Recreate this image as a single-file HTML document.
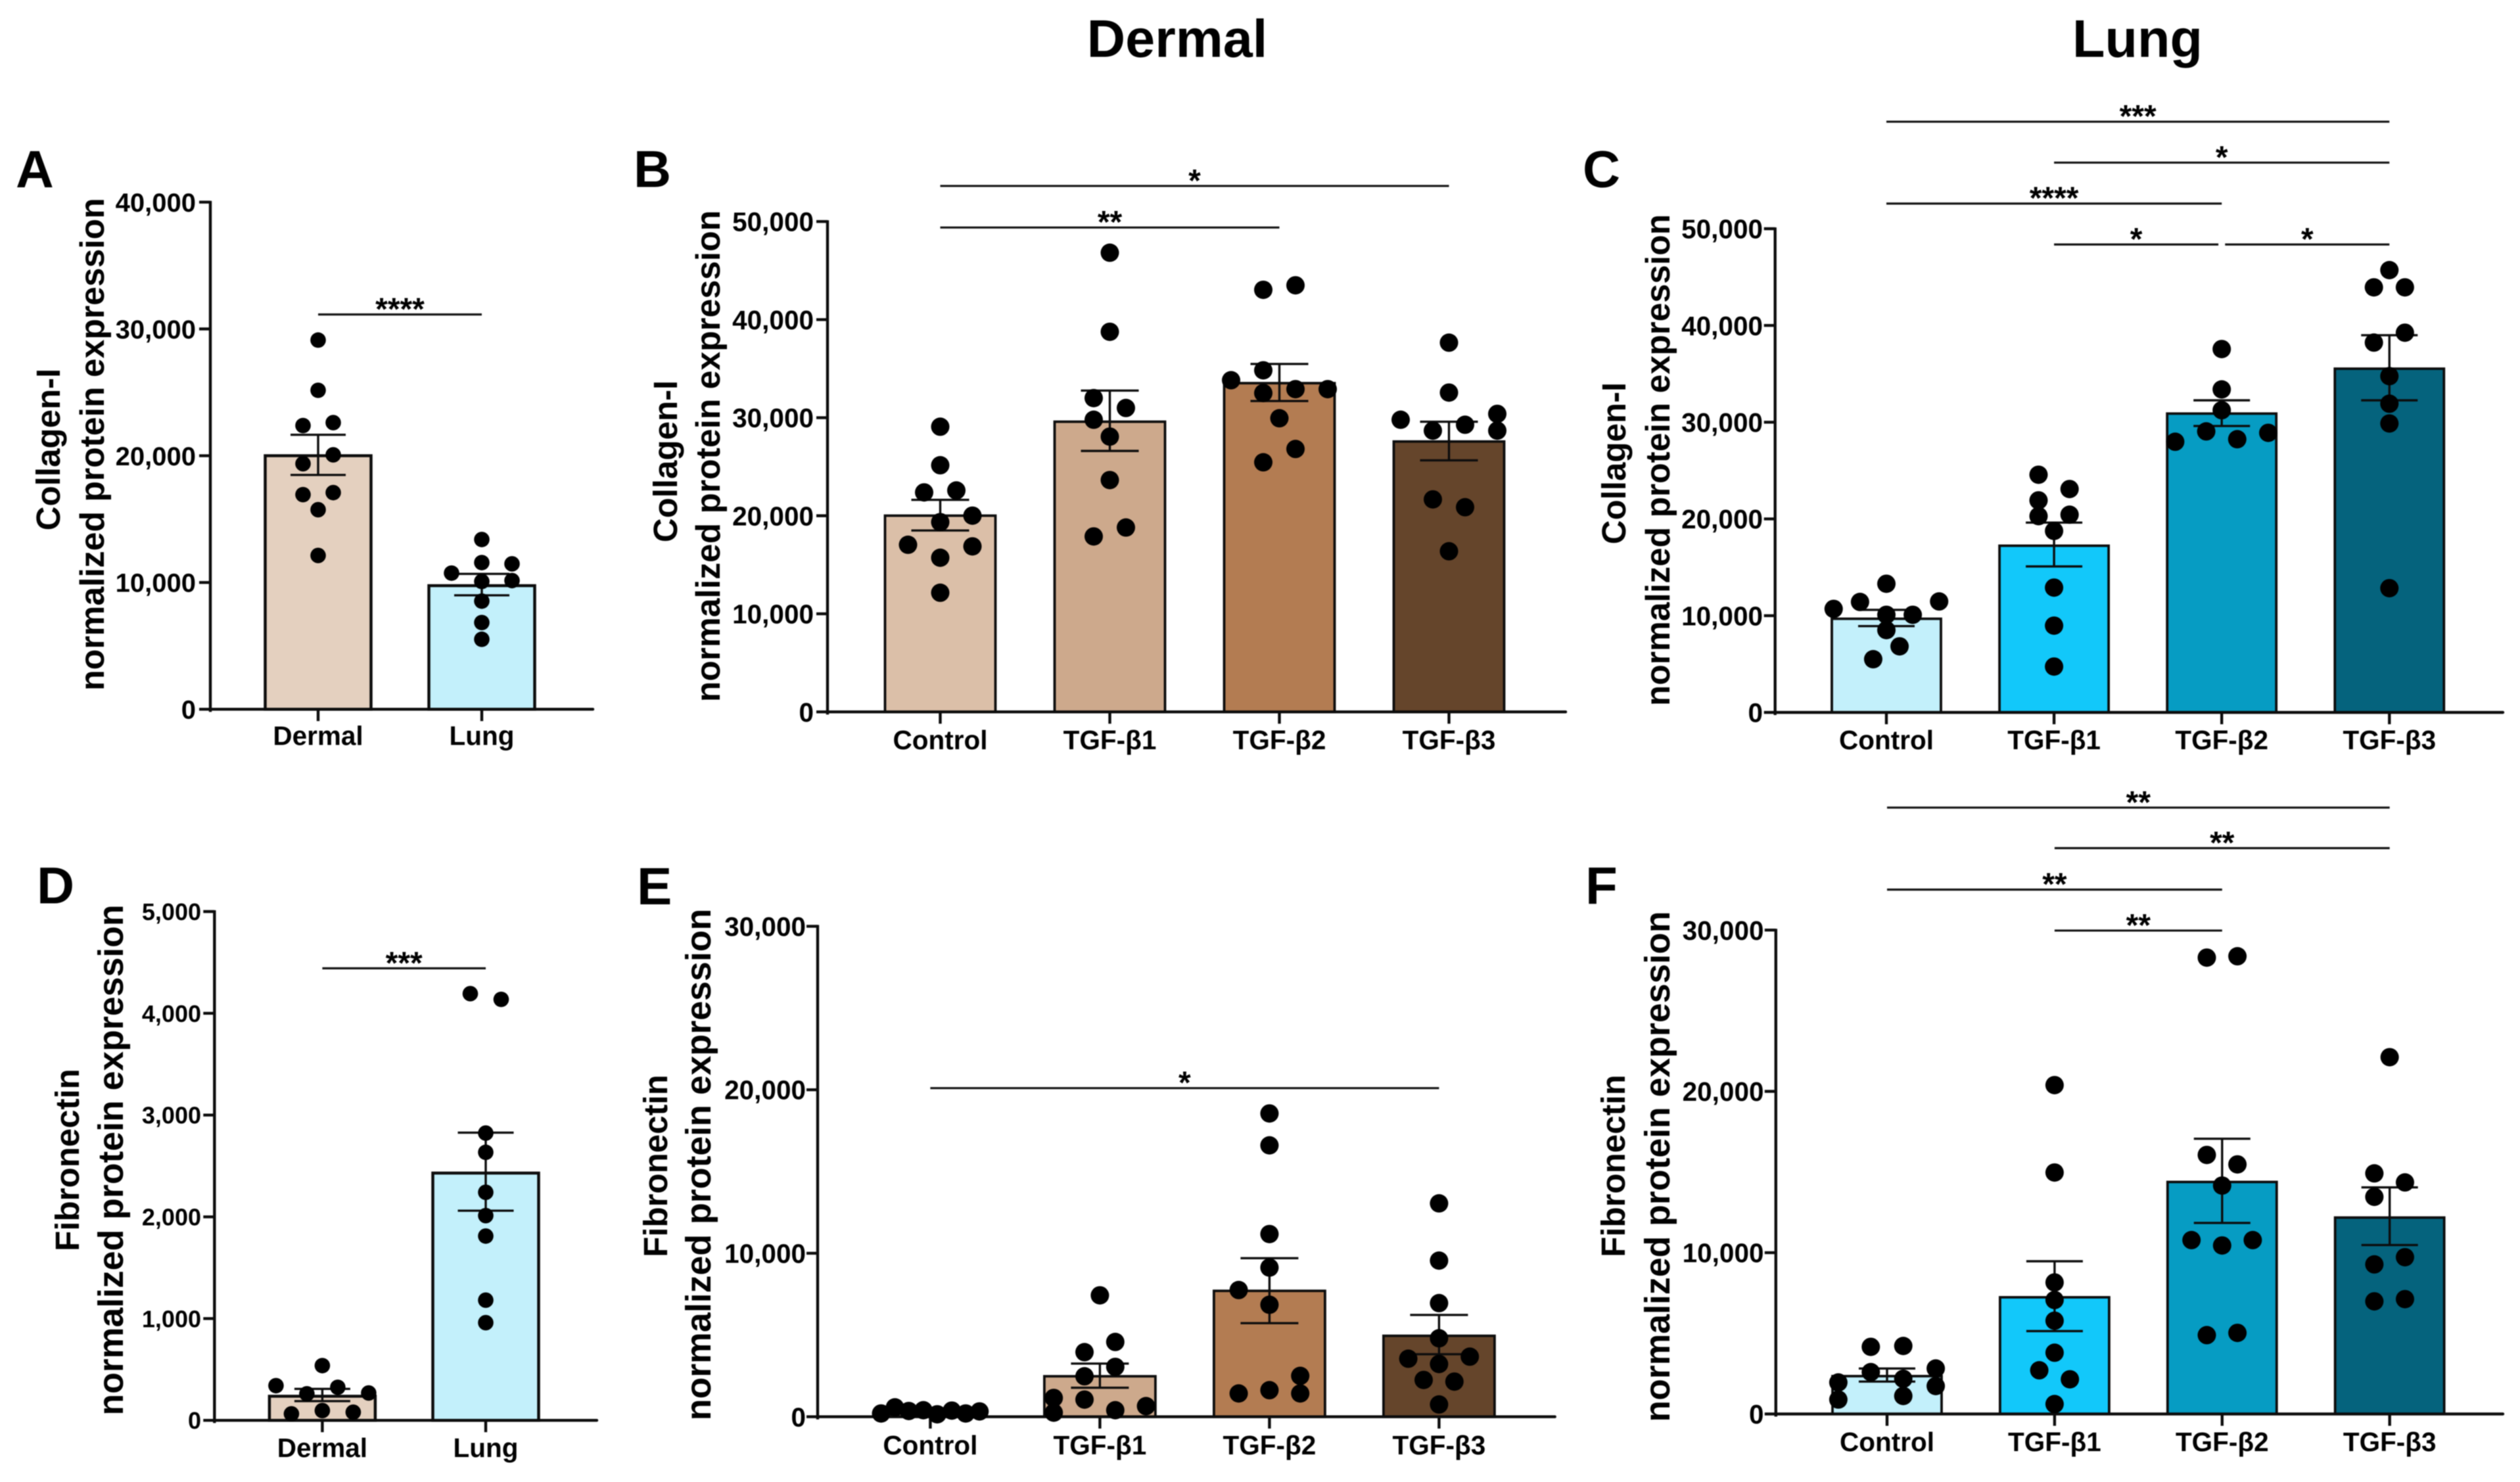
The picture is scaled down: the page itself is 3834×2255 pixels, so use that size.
<!DOCTYPE html>
<html lang="en">
<head>
<meta charset="utf-8">
<title>Collagen-I and Fibronectin protein expression</title>
<style>
html,body{margin:0;padding:0;background:#fff;}
svg{display:block;filter:blur(0.7px);}
text{font-family:"Liberation Sans",Arial,sans-serif;font-weight:700;fill:#000;}
</style>
</head>
<body>
<svg id="figure" xmlns="http://www.w3.org/2000/svg" width="3834" height="2255" viewBox="0 0 3834 2255">
  <rect x="0" y="0" width="3834" height="2255" fill="#ffffff"/>
  <text x="1791" y="86.5" font-size="81" text-anchor="middle">Dermal</text>
  <text x="3252" y="86.5" font-size="81" text-anchor="middle">Lung</text>
</svg>
<script>
// ---------- Panel A ----------
const panelACategories = ['Dermal', 'Lung'];
const panelATicks = [0, 10000, 20000, 30000, 40000];
const panelAMeans = [20000, 9750];
const panelAErrorHigh = [21650, 10680];
const panelAErrorLow = [18480, 8990];
const panelADermalValues = [29120, 25160, 22380, 22610, 20070, 19370, 16930, 17090, 15740, 12130];
const panelADermalSwarm = [0, 0, -1, 1, 1, -1, -1, 1, 0, 0];
const panelALungValues = [13390, 10740, 11570, 11470, 10080, 10150, 8530, 6840, 5520];
const panelALungSwarm = [0, -2, 0, 2, 0, 2, 0, 0, 0];
const panelASigFrom = [0];
const panelASigTo = [1];
const panelASigLevels = [31140];
const panelASigLabels = ['****'];

// ---------- Panel B ----------
const panelBCategories = ['Control', 'TGF-β1', 'TGF-β2', 'TGF-β3'];
const panelBTicks = [0, 10000, 20000, 30000, 40000, 50000];
const panelBMeans = [20010, 29590, 33520, 27570];
const panelBErrorHigh = [21620, 32760, 35480, 29590];
const panelBErrorLow = [18500, 26610, 31700, 25650];
const panelBControlValues = [29080, 25150, 22380, 22580, 20010, 19350, 17040, 16880, 15720, 12150];
const panelBControlSwarm = [0, 0, -1, 1, 2, 0, -2, 2, 0, 0];
const panelBBeta1Values = [46820, 38760, 32000, 30990, 29790, 28070, 23640, 18800, 17890];
const panelBBeta1Swarm = [0, 0, -1, 1, -1, 0, 0, 1, -1];
const panelBBeta2Values = [43040, 43500, 34830, 33820, 32910, 32910, 32510, 29940, 26810, 25450];
const panelBBeta2Swarm = [-1, 1, -1, -3, 1, 3, -1, 0, 1, -1];
const panelBBeta3Values = [37650, 32560, 30390, 29790, 29280, 28680, 28680, 21670, 20870, 16380];
const panelBBeta3Swarm = [0, 0, 3, -3, 1, -1, 3, -1, 1, 0];
const panelBSigFrom = [0, 0];
const panelBSigTo = [3, 2];
const panelBSigLevels = [53630, 49390];
const panelBSigLabels = ['*', '**'];

// ---------- Panel C ----------
const panelCCategories = ['Control', 'TGF-β1', 'TGF-β2', 'TGF-β3'];
const panelCTicks = [0, 10000, 20000, 30000, 40000, 50000];
const panelCMeans = [9680, 17230, 30890, 35530];
const panelCErrorHigh = [10600, 19620, 32260, 38990];
const panelCErrorLow = [8920, 15090, 29610, 32260];
const panelCControlValues = [13300, 11420, 11470, 10700, 10090, 10090, 8510, 6830, 5500];
const panelCControlSwarm = [0, -1.7, 3.4, -3.4, 0, 1.7, 0, 0.85, -0.85];
const panelCBeta1Values = [24570, 23090, 21920, 20440, 20290, 18760, 12900, 8970, 4740];
const panelCBeta1Swarm = [-1, 1, -1, 1, -1, 0, 0, 0, 0];
const panelCBeta2Values = [37560, 33390, 31240, 29050, 28900, 28240, 27980];
const panelCBeta2Swarm = [0, 0, 0, -1, 3, 1, -3];
const panelCBeta3Values = [45720, 43940, 43940, 39250, 38230, 34760, 31910, 29870, 12840];
const panelCBeta3Swarm = [0, -1, 1, 1, -1, 0, 0, 0, 0];
const panelCSigFrom = [0, 1, 0, 1, 2.02];
const panelCSigTo = [3, 3, 2, 1.98, 3];
const panelCSigLevels = [61060, 56830, 52600, 48370, 48370];
const panelCSigLabels = ['***', '*', '****', '*', '*'];

// ---------- Panel D ----------
const panelDCategories = ['Dermal', 'Lung'];
const panelDTicks = [0, 1000, 2000, 3000, 4000, 5000];
const panelDMeans = [237, 2430];
const panelDErrorHigh = [309, 2827];
const panelDErrorLow = [189, 2060];
const panelDDermalValues = [538, 341, 325, 261, 269, 96, 64, 80];
const panelDDermalSwarm = [0, -3, 1, -1, 3, 0, -2, 2];
const panelDLungValues = [4193, 4137, 2823, 2634, 2241, 2012, 1811, 1181, 960];
const panelDLungSwarm = [-1, 1, 0, 0, 0, 0, 0, 0, 0];
const panelDSigFrom = [0];
const panelDSigTo = [1];
const panelDSigLevels = [4442];
const panelDSigLabels = ['***'];

// ---------- Panel E ----------
const panelECategories = ['Control', 'TGF-β1', 'TGF-β2', 'TGF-β3'];
const panelETicks = [0, 10000, 20000, 30000];
const panelEMeans = [300, 2475, 7700, 4950];
const panelEErrorHigh = [360, 3250, 9700, 6225];
const panelEErrorLow = [240, 1775, 5725, 3825];
const panelEControlValues = [200, 575, 350, 400, 150, 375, 200, 325];
const panelEControlSwarm = [-3.2, -2.3, -1.4, -0.45, 0.45, 1.4, 2.3, 3.2];
const panelEBeta1Values = [7425, 4575, 3950, 3050, 2475, 1150, 1050, 650, 400, 250];
const panelEBeta1Swarm = [0, 1, -1, 1, -1, -3, -1, 3, 1, -3];
const panelEBeta2Values = [18550, 16600, 11175, 9125, 7750, 6850, 2500, 1625, 1425, 1425];
const panelEBeta2Swarm = [0, 0, 0, 0, -2, 0, 2, 0, -2, 2];
const panelEBeta3Values = [13050, 9550, 6950, 4800, 3550, 3675, 3225, 2250, 2150, 750];
const panelEBeta3Swarm = [0, 0, 0, 0, -2, 2, 0, -1, 1, 0];
const panelESigFrom = [0];
const panelESigTo = [3];
const panelESigLevels = [20100];
const panelESigLabels = ['*'];

// ---------- Panel F ----------
const panelFCategories = ['Control', 'TGF-β1', 'TGF-β2', 'TGF-β3'];
const panelFTicks = [0, 10000, 20000, 30000];
const panelFMeans = [2346, 7234, 14384, 12177];
const panelFErrorHigh = [2820, 9468, 17065, 14049];
const panelFErrorLow = [2010, 5139, 11842, 10474];
const panelFControlValues = [4162, 4217, 2821, 2597, 2179, 1955, 1732, 1117, 894];
const panelFControlSwarm = [-1.06, 1.06, 3.18, -1.06, 1.06, -3.18, 3.18, 1.06, -3.18];
const panelFBeta1Values = [20389, 14970, 8155, 7066, 5782, 3798, 2709, 2151, 614];
const panelFBeta1Swarm = [0, 0, 0, 0, 0, 0, -1, 1, 0];
const panelFBeta2Values = [28293, 28377, 16060, 15473, 14160, 10781, 10781, 10446, 4888, 5027];
const panelFBeta2Swarm = [-1, 1, -1, 1, 0, -2, 2, 0, -1, 1];
const panelFBeta3Values = [22121, 14915, 14356, 13462, 9720, 9273, 7122, 6983];
const panelFBeta3Swarm = [0, -1, 1, -1, 1, -1, 1, -1];
const panelFSigFrom = [0, 1, 0, 1];
const panelFSigTo = [3, 3, 2, 2];
const panelFSigLevels = [37594, 35080, 32510, 29970];
const panelFSigLabels = ['**', '**', '**', '**'];

const svgNS = 'http://www.w3.org/2000/svg';
const figure = document.getElementById('figure');

function make(parent, tag, attrs) {
  const node = document.createElementNS(svgNS, tag);
  for (const key in attrs) node.setAttribute(key, attrs[key]);
  parent.appendChild(node);
  return node;
}

function drawPanel(p) {
  const axisMax = p.ticks[p.ticks.length - 1];
  const yScale = function (v) { return p.y0 - (v / axisMax) * (p.y0 - p.yTop); };
  const xScale = function (i) { return p.c0 + i * p.step; };
  const ink = '#0c0c0c';

  const group = make(figure, 'g', {});
  
  

  const letter = make(group, 'text', { x: p.letterX, y: p.letterY, 'font-size': p.letterSize });
  
  
  letter.textContent = p.id;

  const title1 = make(group, 'text', { transform: 'translate(' + p.title1X + ',' + p.title1Y + ') rotate(-90)', 'font-size': p.title1Size, 'text-anchor': 'middle' });
  
  
  title1.textContent = p.protein;

  const title2 = make(group, 'text', { transform: 'translate(' + p.title2X + ',' + p.title2Y + ') rotate(-90)', 'font-size': p.title2Size, 'text-anchor': 'middle' });
  
  
  title2.textContent = 'normalized protein expression';

  // bars
  p.categories.forEach(function (cat, i) {
    const top = yScale(p.means[i]);
    const bar = make(group, 'rect', { x: xScale(i) - p.barW / 2, y: top, width: p.barW, height: p.y0 - top, fill: p.colors[i], stroke: ink, 'stroke-width': p.barStroke });
    
    
  });

  // axes
  const yAxis = make(group, 'line', { x1: p.axisX, x2: p.axisX, y1: p.yTop - 2, y2: p.y0 + 4, stroke: ink, 'stroke-width': 4.4 });
  
  
  const xAxis = make(group, 'line', { x1: p.axisX, x2: p.axisEnd, y1: p.y0, y2: p.y0, stroke: ink, 'stroke-width': 4.4, 'stroke-linecap': 'round' });
  
  

  // y ticks
  p.ticks.forEach(function (t) {
    const y = yScale(t);
    const tick = make(group, 'line', { x1: p.axisX - 17, x2: p.axisX, y1: y, y2: y, stroke: ink, 'stroke-width': 4.4 });
    
    
    const label = make(group, 'text', { x: p.tickRight, y: y + p.tickSize * 0.36, 'font-size': p.tickSize, 'text-anchor': 'end' });
    
    
    label.textContent = t.toLocaleString('en-US');
  });

  // x ticks and labels
  p.categories.forEach(function (cat, i) {
    const tick = make(group, 'line', { x1: xScale(i), x2: xScale(i), y1: p.y0, y2: p.y0 + 18, stroke: ink, 'stroke-width': 4.4 });
    
    
    const label = make(group, 'text', { x: xScale(i), y: p.catY, 'font-size': 40.5, 'text-anchor': 'middle' });
    
    
    label.textContent = cat;
  });

  // error bars
  p.categories.forEach(function (cat, i) {
    const cx = xScale(i);
    const hi = yScale(p.errHigh[i]);
    const lo = yScale(p.errLow[i]);
    const stem = make(group, 'line', { x1: cx, x2: cx, y1: hi, y2: lo, stroke: ink, 'stroke-width': 3.4 });
    
    
    const capHi = make(group, 'line', { x1: cx - p.capHalf, x2: cx + p.capHalf, y1: hi, y2: hi, stroke: ink, 'stroke-width': 3.4 });
    
    
    const capLo = make(group, 'line', { x1: cx - p.capHalf, x2: cx + p.capHalf, y1: lo, y2: lo, stroke: ink, 'stroke-width': 3.4 });
    
    
  });

  // individual data points
  p.groups.forEach(function (values, i) {
    values.forEach(function (v, k) {
      const dot = make(group, 'circle', { cx: xScale(i) + p.swarms[i][k] * p.halfStep, cy: yScale(v), r: p.dotR, fill: '#000000' });
      
      
    });
  });

  // significance brackets
  p.sigLabels.forEach(function (label, i) {
    const x1 = xScale(p.sigFrom[i]);
    const x2 = xScale(p.sigTo[i]);
    const y = yScale(p.sigLevels[i]);
    const line = make(group, 'line', { x1: x1, x2: x2, y1: y, y2: y, stroke: '#111111', 'stroke-width': 3.2 });
    
    
    const star = make(group, 'text', { x: (x1 + x2) / 2, y: y + 8, 'font-size': 48, 'text-anchor': 'middle' });
    
    
    star.textContent = label;
  });
}

const dermalColors = ['#dbbfa8', '#cda98c', '#b37c52', '#65452b'];
const lungColors = ['#c3f0fb', '#12c8fa', '#069cc3', '#05637d'];
const pairColors = ['#e4d0bf', '#c3f0fb'];

drawPanel({ id: 'A', protein: 'Collagen-I', categories: panelACategories, ticks: panelATicks, means: panelAMeans, errHigh: panelAErrorHigh, errLow: panelAErrorLow,
  groups: [panelADermalValues, panelALungValues], swarms: [panelADermalSwarm, panelALungSwarm],
  sigFrom: panelASigFrom, sigTo: panelASigTo, sigLevels: panelASigLevels, sigLabels: panelASigLabels,
  colors: pairColors, axisX: 320, axisEnd: 902, y0: 1079.2, yTop: 307.6, c0: 484, step: 249, barW: 161, barStroke: 4.5, capHalf: 42, dotR: 11.8, halfStep: 23,
  tickRight: 298, tickSize: 40, catY: 1133.4,
  letterX: 24, letterY: 285, letterSize: 80,
  title1X: 91, title1Y: 684, title1Size: 51, title2X: 158, title2Y: 676, title2Size: 51.7 });

drawPanel({ id: 'B', protein: 'Collagen-I', categories: panelBCategories, ticks: panelBTicks, means: panelBMeans, errHigh: panelBErrorHigh, errLow: panelBErrorLow,
  groups: [panelBControlValues, panelBBeta1Values, panelBBeta2Values, panelBBeta3Values], swarms: [panelBControlSwarm, panelBBeta1Swarm, panelBBeta2Swarm, panelBBeta3Swarm],
  sigFrom: panelBSigFrom, sigTo: panelBSigTo, sigLevels: panelBSigLevels, sigLabels: panelBSigLabels,
  colors: dermalColors, axisX: 1259, axisEnd: 2382, y0: 1083.2, yTop: 337.1, c0: 1430.5, step: 258, barW: 168, barStroke: 3.8, capHalf: 44, dotR: 14, halfStep: 24.5,
  tickRight: 1238, tickSize: 40.5, catY: 1140,
  letterX: 964, letterY: 284.5, letterSize: 79,
  title1X: 1030, title1Y: 702, title1Size: 51, title2X: 1095, title2Y: 694, title2Size: 51.6 });

drawPanel({ id: 'C', protein: 'Collagen-I', categories: panelCCategories, ticks: panelCTicks, means: panelCMeans, errHigh: panelCErrorHigh, errLow: panelCErrorLow,
  groups: [panelCControlValues, panelCBeta1Values, panelCBeta2Values, panelCBeta3Values], swarms: [panelCControlSwarm, panelCBeta1Swarm, panelCBeta2Swarm, panelCBeta3Swarm],
  sigFrom: panelCSigFrom, sigTo: panelCSigTo, sigLevels: panelCSigLevels, sigLabels: panelCSigLabels,
  colors: lungColors, axisX: 2700.7, axisEnd: 3808, y0: 1084, yTop: 348, c0: 2870, step: 255.1, barW: 166, barStroke: 3.8, capHalf: 43, dotR: 14, halfStep: 23.6,
  tickRight: 2682, tickSize: 40.5, catY: 1140,
  letterX: 2408, letterY: 284.5, letterSize: 79,
  title1X: 2473, title1Y: 705, title1Size: 51, title2X: 2540, title2Y: 700, title2Size: 51.6 });

drawPanel({ id: 'D', protein: 'Fibronectin', categories: panelDCategories, ticks: panelDTicks, means: panelDMeans, errHigh: panelDErrorHigh, errLow: panelDErrorLow,
  groups: [panelDDermalValues, panelDLungValues], swarms: [panelDDermalSwarm, panelDLungSwarm],
  sigFrom: panelDSigFrom, sigTo: panelDSigTo, sigLevels: panelDSigLevels, sigLabels: panelDSigLabels,
  colors: pairColors, axisX: 326.3, axisEnd: 908, y0: 2161.2, yTop: 1387, c0: 490.4, step: 248.6, barW: 161, barStroke: 4.5, capHalf: 42.5, dotR: 11.8, halfStep: 23.5,
  tickRight: 306, tickSize: 36, catY: 2217,
  letterX: 56, letterY: 1374.5, letterSize: 79,
  title1X: 120, title1Y: 1765, title1Size: 51, title2X: 187, title2Y: 1765, title2Size: 53.6 });

drawPanel({ id: 'E', protein: 'Fibronectin', categories: panelECategories, ticks: panelETicks, means: panelEMeans, errHigh: panelEErrorHigh, errLow: panelEErrorLow,
  groups: [panelEControlValues, panelEBeta1Values, panelEBeta2Values, panelEBeta3Values], swarms: [panelEControlSwarm, panelEBeta1Swarm, panelEBeta2Swarm, panelEBeta3Swarm],
  sigFrom: panelESigFrom, sigTo: panelESigTo, sigLevels: panelESigLevels, sigLabels: panelESigLabels,
  colors: dermalColors, axisX: 1244, axisEnd: 2365.7, y0: 2155.7, yTop: 1409.4, c0: 1415.4, step: 258, barW: 169, barStroke: 3.8, capHalf: 44, dotR: 14, halfStep: 23.4,
  tickRight: 1226, tickSize: 40.5, catY: 2213,
  letterX: 969, letterY: 1376, letterSize: 80,
  title1X: 1015, title1Y: 1774, title1Size: 51, title2X: 1081, title2Y: 1772, title2Size: 53.7 });

drawPanel({ id: 'F', protein: 'Fibronectin', categories: panelFCategories, ticks: panelFTicks, means: panelFMeans, errHigh: panelFErrorHigh, errLow: panelFErrorLow,
  groups: [panelFControlValues, panelFBeta1Values, panelFBeta2Values, panelFBeta3Values], swarms: [panelFControlSwarm, panelFBeta1Swarm, panelFBeta2Swarm, panelFBeta3Swarm],
  sigFrom: panelFSigFrom, sigTo: panelFSigTo, sigLevels: panelFSigLevels, sigLabels: panelFSigLabels,
  colors: lungColors, axisX: 2701.8, axisEnd: 3808, y0: 2151.5, yTop: 1415.2, c0: 2871, step: 254.9, barW: 166, barStroke: 3.8, capHalf: 43, dotR: 14, halfStep: 23.3,
  tickRight: 2683.5, tickSize: 40.5, catY: 2208,
  letterX: 2412, letterY: 1375, letterSize: 80,
  title1X: 2472, title1Y: 1774, title1Size: 51, title2X: 2540, title2Y: 1775, title2Size: 53.6 });
</script>
</body>
</html>
